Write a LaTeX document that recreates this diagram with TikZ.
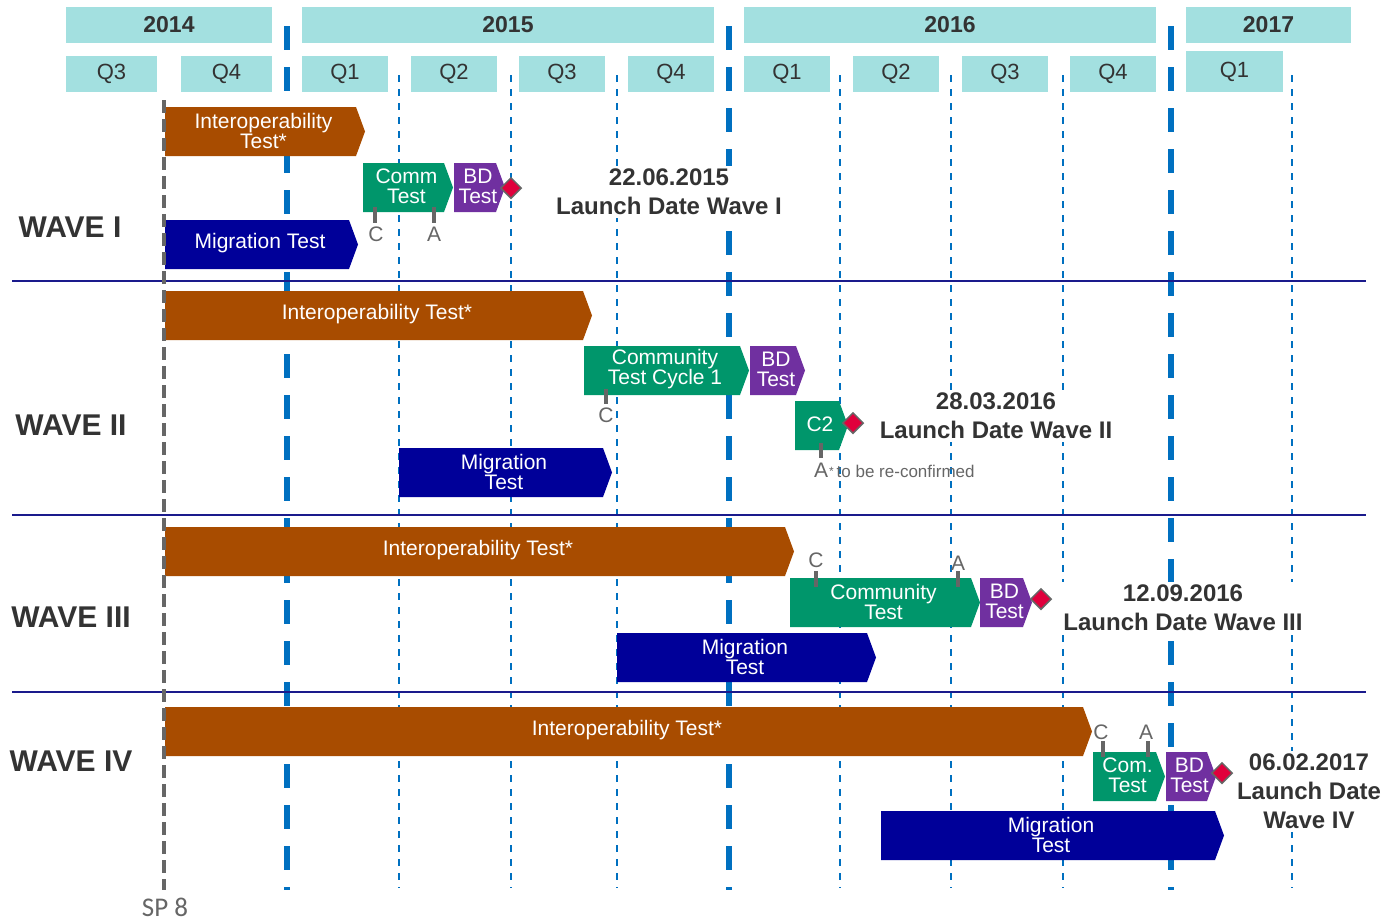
\documentclass[tikz,border=0pt]{standalone}
\usepackage{fontspec}
\setmainfont{Liberation Sans}
\newfontfamily\carlitofont{Carlito}
\usetikzlibrary{shapes.geometric}
\definecolor{hdrteal}{HTML}{A3E0E0}
\definecolor{darktext}{HTML}{333333}
\definecolor{lineblue}{HTML}{0070C0}
\definecolor{sepnavy}{HTML}{1A1A8C}
\definecolor{barbrown}{HTML}{A84C00}
\definecolor{bargreen}{HTML}{00966B}
\definecolor{barpurple}{HTML}{7030A0}
\definecolor{barnavy}{HTML}{000099}
\definecolor{diared}{HTML}{E0003C}
\definecolor{markgray}{HTML}{666666}
\newcommand\tlbar[7]{%
  \fill[#6] (#2,#4) -- ({#3-9},#4) -- (#3,{(#4+#5)/2}) -- ({#3-9},#5) -- (#2,#5) -- cycle;
  \node[bartxt] (#1) at ({(#2+#3-3)/2},{(#4+#5)/2-1}) {#7};}
\begin{document}
\begin{tikzpicture}[x=1pt,y=-1pt,
  hdr/.style={fill=hdrteal, text=darktext, inner sep=0pt},
  yearbox/.style={hdr, minimum height=36pt, font=\fontsize{23}{23}\selectfont\bfseries},
  qbox/.style={hdr, minimum height=36pt, minimum width=86pt, font=\fontsize{22}{22}\selectfont},
  bartxt/.style={text=white, align=center, inner sep=0pt, font=\fontsize{21}{20}\selectfont},
  yearline/.style={line width=5.5pt, draw=lineblue, dash pattern=on 24pt off 17pt},
  qline/.style={line width=2pt, draw=lineblue, dash pattern=on 7pt off 7pt},
  sepline/.style={line width=2.5pt, draw=sepnavy},
  sp8line/.style={line width=4pt, draw=markgray, dash pattern=on 13pt off 6pt},
  wavelbl/.style={text=darktext, inner sep=0pt, font=\fontsize{30}{30}\selectfont\bfseries},
  launch/.style={text=darktext, fill=white, inner xsep=3pt, inner ysep=3pt, align=center, font=\fontsize{24}{29}\selectfont\bfseries},
  markline/.style={line width=3.5pt, draw=markgray},
  marklbl/.style={text=markgray, inner sep=0pt, font=\fontsize{21}{21}\selectfont},
  launchdia/.style={diamond, aspect=1, fill=diared, draw=markgray, line width=1.5pt, inner sep=0pt, minimum width=21pt, minimum height=21pt}]
\useasboundingbox (0,0) rectangle (1385,922);
% header
\node[yearbox, minimum width=206pt] (y2014) at (169,25) {2014};
\node[yearbox, minimum width=412pt] (y2015) at (508,25) {2015};
\node[yearbox, minimum width=412pt] (y2016) at (950,25) {2016};
\node[yearbox, minimum width=165pt] (y2017) at (1268.5,25) {2017};
\node[qbox, minimum width=91pt] (q143) at (111.5,74) {Q3};
\node[qbox, minimum width=91pt] (q144) at (226.5,74) {Q4};
\node[qbox] (q151) at (345,74) {Q1};
\node[qbox] (q152) at (454,74) {Q2};
\node[qbox] (q153) at (562,74) {Q3};
\node[qbox] (q154) at (671,74) {Q4};
\node[qbox] (q161) at (787,74) {Q1};
\node[qbox] (q162) at (896,74) {Q2};
\node[qbox] (q163) at (1005,74) {Q3};
\node[qbox] (q164) at (1113,74) {Q4};
\node[qbox, minimum width=97pt, minimum height=41pt] (q171) at (1234.5,71.5) {Q1};
% grid lines
\foreach \xx in {399,511,617,840,951,1063,1292} \draw[qline] (\xx,75) -- (\xx,888);
\foreach \xx in {287,729,1171} \draw[yearline] (\xx,26) -- (\xx,890);
% separators
\foreach \yy in {281,515,692} \draw[sepline] (12,\yy) -- (1366,\yy);
% wave labels
\node[wavelbl] (w1) at (70,227) {WAVE I};
\node[wavelbl] (w2) at (71,425) {WAVE II};
\node[wavelbl] (w3) at (71,617) {WAVE III};
\node[wavelbl] (w4) at (71,761) {WAVE IV};
% Wave I
\tlbar{w1io}{165}{365}{107}{156}{barbrown}{Interoperability\\Test*}
\tlbar{w1comm}{363}{453}{163}{212}{bargreen}{Comm\\Test}
\tlbar{w1bd}{454}{505}{163}{212}{barpurple}{BD\\Test}
\tlbar{w1mig}{165}{358}{220}{269}{barnavy}{Migration Test}
\node[launchdia] (d1) at (511,188) {};
\draw[markline] (375,207) -- (375,223);
\draw[markline] (434,207) -- (434,223);
\node[marklbl] (w1c) at (376,234) {C};
\node[marklbl] (w1a) at (434,234) {A};
\node[launch] (l1) at (669,192) {22.06.2015\\Launch Date Wave I};
% Wave II
\tlbar{w2io}{165}{592}{291}{340}{barbrown}{Interoperability Test*}
\tlbar{w2ctc}{584}{749}{346}{395}{bargreen}{Community\\Test Cycle 1}
\tlbar{w2bd}{750}{805}{346}{395}{barpurple}{BD\\Test}
\tlbar{w2c2}{795}{848}{401}{450}{bargreen}{C2}
\tlbar{w2mig}{399}{612}{448}{497}{barnavy}{Migration\\Test}
\node[launchdia] (d2) at (853,423) {};
\draw[markline] (606,389) -- (606,404);
\draw[markline] (821,443) -- (821,458);
\node[marklbl] (w2c) at (606,415) {C};
\node[marklbl] (w2a) at (821,470) {A};
\node[anchor=west, text=markgray, inner sep=0pt, font=\fontsize{17}{17}\selectfont] (w2note) at (829,471) {\raisebox{2pt}{\fontsize{12}{12}\selectfont*}\,to be re-confirmed};
\node[launch] (l2) at (996,416) {28.03.2016\\Launch Date Wave II};
% Wave III
\tlbar{w3io}{165}{794}{527}{576}{barbrown}{Interoperability Test*}
\tlbar{w3comm}{790}{980}{578}{627}{bargreen}{Community\\Test}
\tlbar{w3bd}{980}{1032}{578}{627}{barpurple}{BD\\Test}
\tlbar{w3mig}{617}{876}{633}{682}{barnavy}{Migration\\Test}
\node[launchdia] (d3) at (1041,599) {};
\draw[markline] (816,571) -- (816,587);
\draw[markline] (958,571) -- (958,587);
\node[marklbl] (w3c) at (816,560) {C};
\node[marklbl] (w3a) at (958,563) {A};
\node[launch] (l3) at (1183,608) {12.09.2016\\Launch Date Wave III};
% Wave IV
\tlbar{w4io}{165}{1092}{707}{756}{barbrown}{Interoperability Test*}
\tlbar{w4com}{1093}{1165}{752}{801}{bargreen}{Com.\\Test}
\tlbar{w4bd}{1166}{1216}{752}{801}{barpurple}{BD\\Test}
\tlbar{w4mig}{881}{1224}{811}{860}{barnavy}{Migration\\Test}
\node[launchdia] (d4) at (1222,773) {};
\draw[markline] (1103,741) -- (1103,757);
\draw[markline] (1148,741) -- (1148,757);
\node[marklbl] (w4c) at (1101,732) {C};
\node[marklbl] (w4a) at (1146,732) {A};
\node[launch] (l4) at (1309,791) {06.02.2017\\Launch Date\\Wave IV};
% SP 8
\draw[sp8line] (164,100) -- (164,890);
\node[text=markgray, inner sep=0pt, font=\carlitofont\fontsize{27}{27}\selectfont] (sp8) at (165,907) {SP 8};
\end{tikzpicture}
\end{document}
